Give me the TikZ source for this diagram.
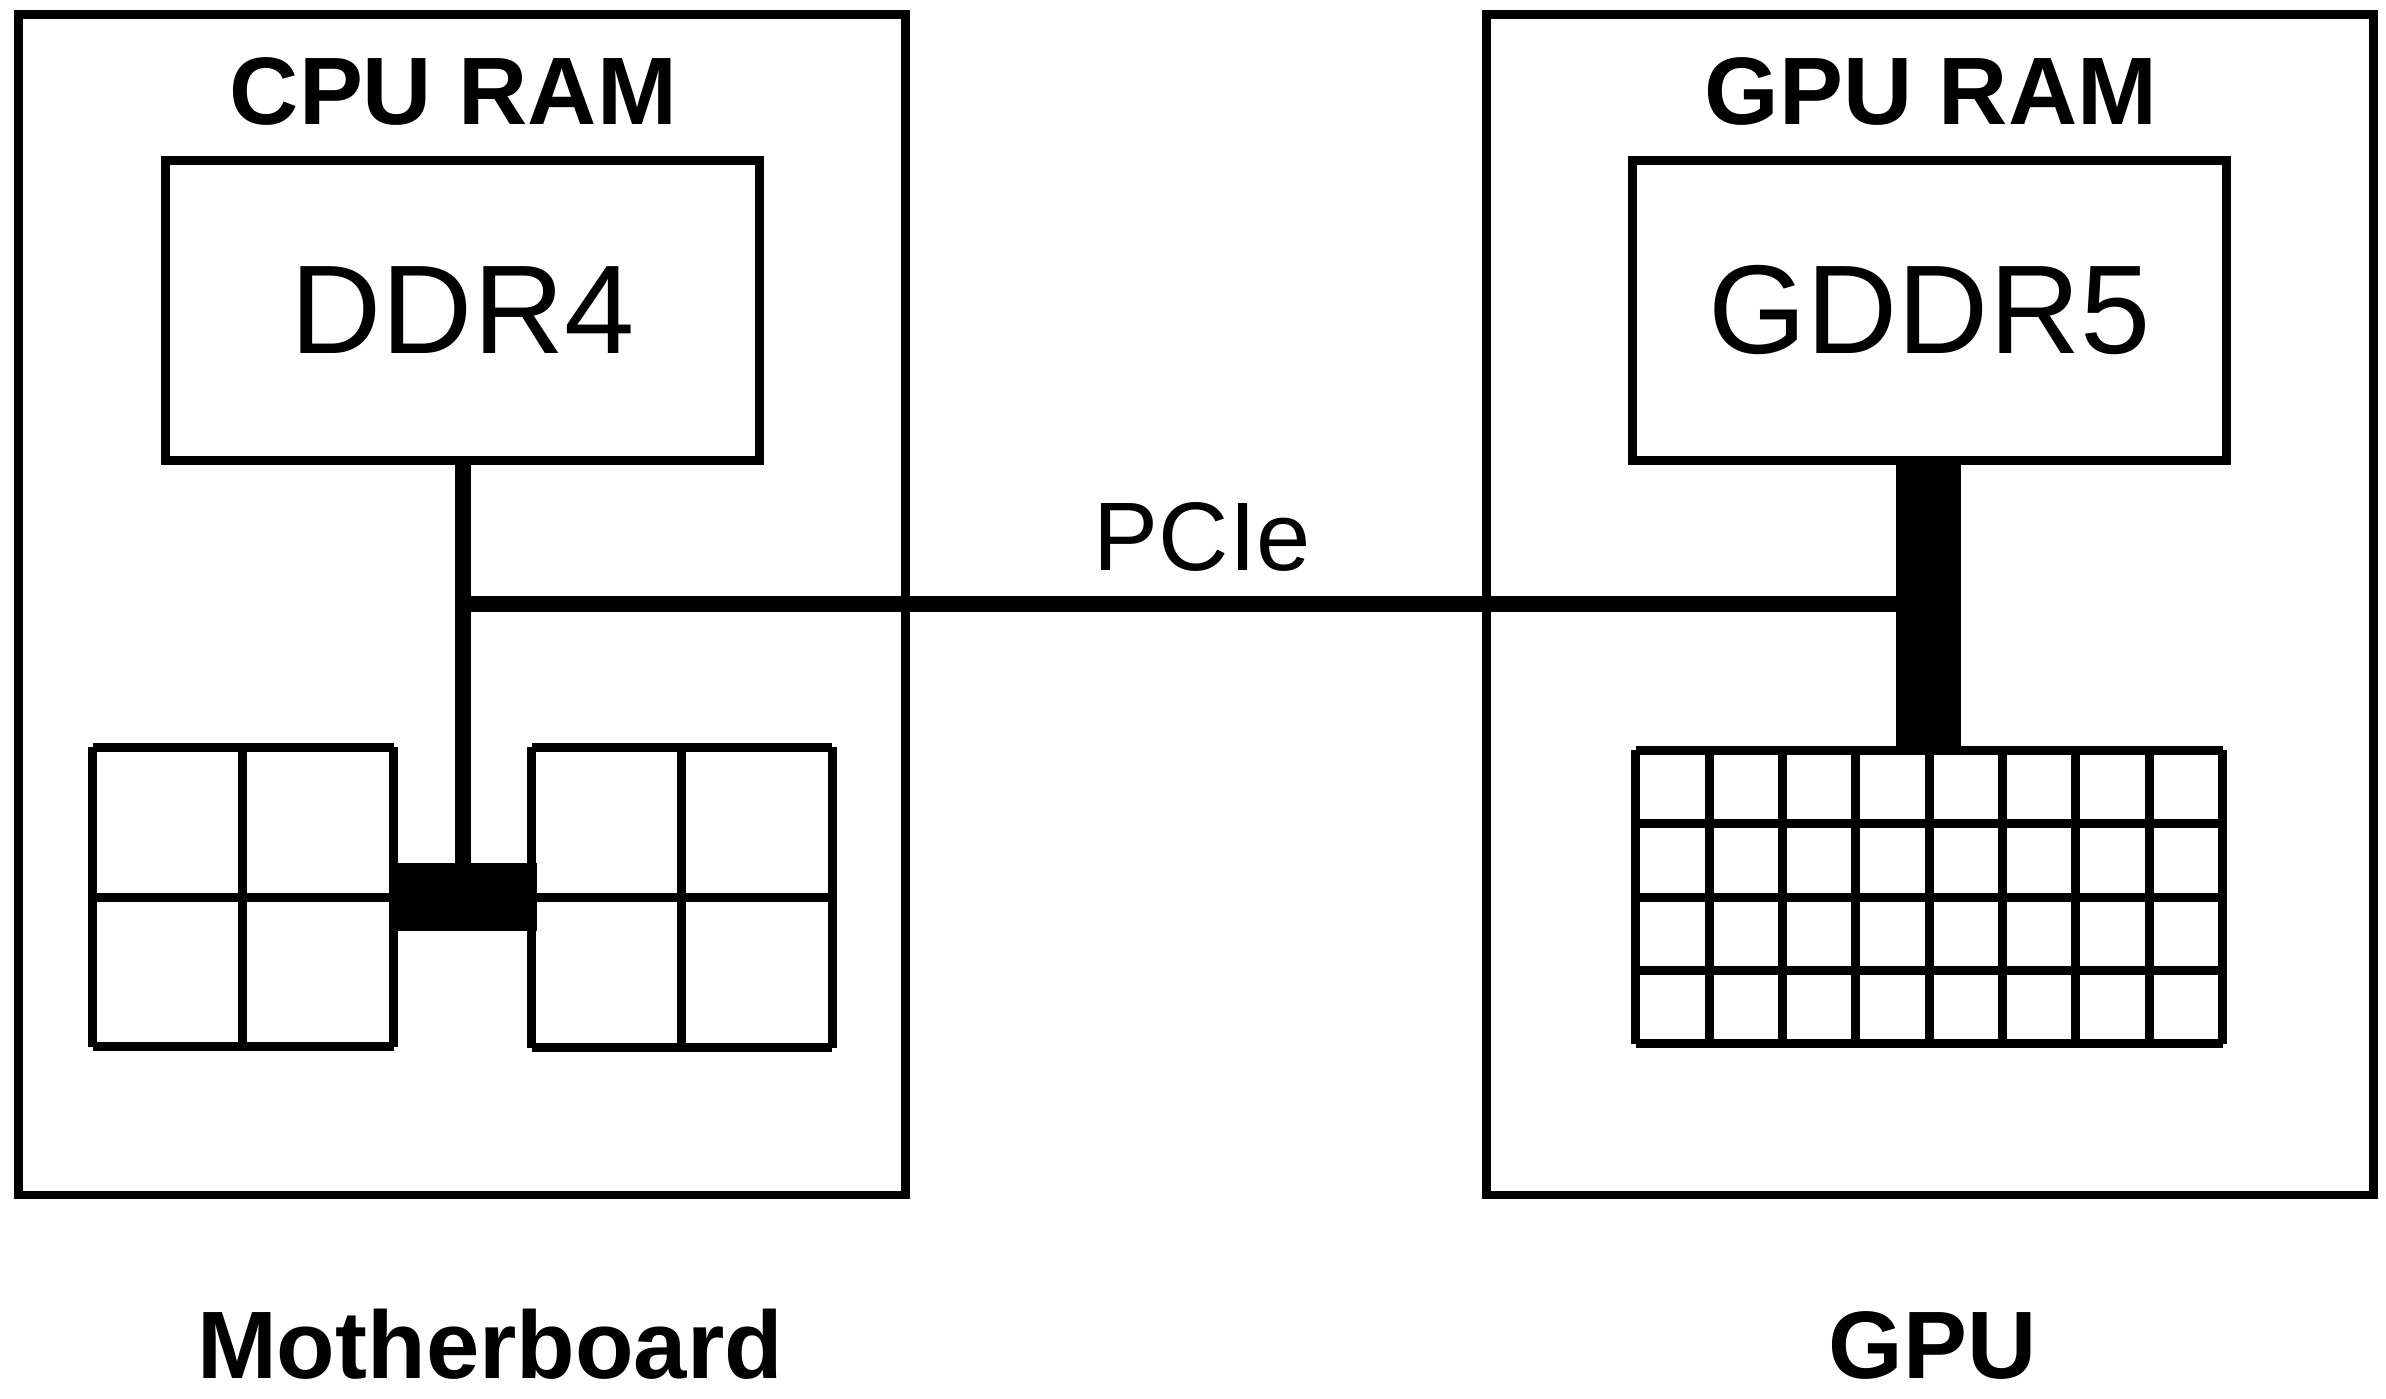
\documentclass[tikz,border=0pt]{standalone}
\usepackage{fontspec}
\setmainfont{Liberation Sans}
\begin{document}
\begin{tikzpicture}[x=1pt,y=-1pt,
  box/.style={draw,line width=5.9pt,inner sep=0pt,outer sep=0pt},
  title/.style={font=\fontsize{63}{63}\selectfont\bfseries,anchor=base,inner sep=0pt},
  chiptext/.style={font=\fontsize{83}{83}\selectfont},
  gridline/.style={line width=5.9pt},
  link/.style={line width=10.5pt},
  blk/.style={fill=black,draw=none,inner sep=0pt,outer sep=0pt}]
\useasboundingbox (0,0) rectangle (1568,919);

% outer boxes
\node[box,minimum width=583pt,minimum height=776pt] (mb) at (303.5,397.3) {};
\node[box,minimum width=583pt,minimum height=776pt] (gpu) at (1268.5,397.3) {};

% titles
\node[title] (cputitle) at (298,82) {CPU RAM};
\node[title] (gputitle) at (1269,82) {GPU RAM};
\node[title] (mbtitle) at (322,906) {Motherboard};
\node[title] (gpulabel) at (1270,906) {GPU};

% memory boxes
\node[box,chiptext,minimum width=390pt,minimum height=197pt] (ddr) at (304,204) {DDR4};
\node[box,chiptext,minimum width=390pt,minimum height=197pt] (gddr) at (1268,204) {GDDR5};

% CPU cores grids
\foreach \x in {61,159.5,258.6} \draw[gridline] (\x,491) -- (\x,688);
\foreach \y in {491,589.5,688} \draw[gridline] (61,\y) -- (258.6,\y);
\foreach \x in {349.6,448,547} \draw[gridline] (\x,491) -- (\x,688.5);
\foreach \y in {491,589.5,688.5} \draw[gridline] (349.6,\y) -- (547,\y);

% GPU cores grid
\foreach \i in {0,...,8} \draw[gridline] ({1075+\i*48.2},493) -- ({1075+\i*48.2},686);
\foreach \j in {0,...,4} \draw[gridline] (1075,{493+\j*48.25}) -- (1460.6,{493+\j*48.25});

% CPU hub block and GPU bus bar
\node[blk,minimum width=97pt,minimum height=45pt] (hub) at (304.2,589.5) {};
\node[blk,minimum width=43pt,minimum height=190pt] (bar) at (1267.5,398) {};

% connectors
\coordinate (tee) at (304.5,397);
\draw[link] (ddr.south -| tee) -- (hub.north -| tee);
\draw[link] (tee) -- (tee -| bar.west);

% PCIe label
\node[font=\fontsize{64}{64}\selectfont,anchor=base,inner sep=0pt] (pcie) at (790,375) {PCIe};
\end{tikzpicture}
\end{document}
